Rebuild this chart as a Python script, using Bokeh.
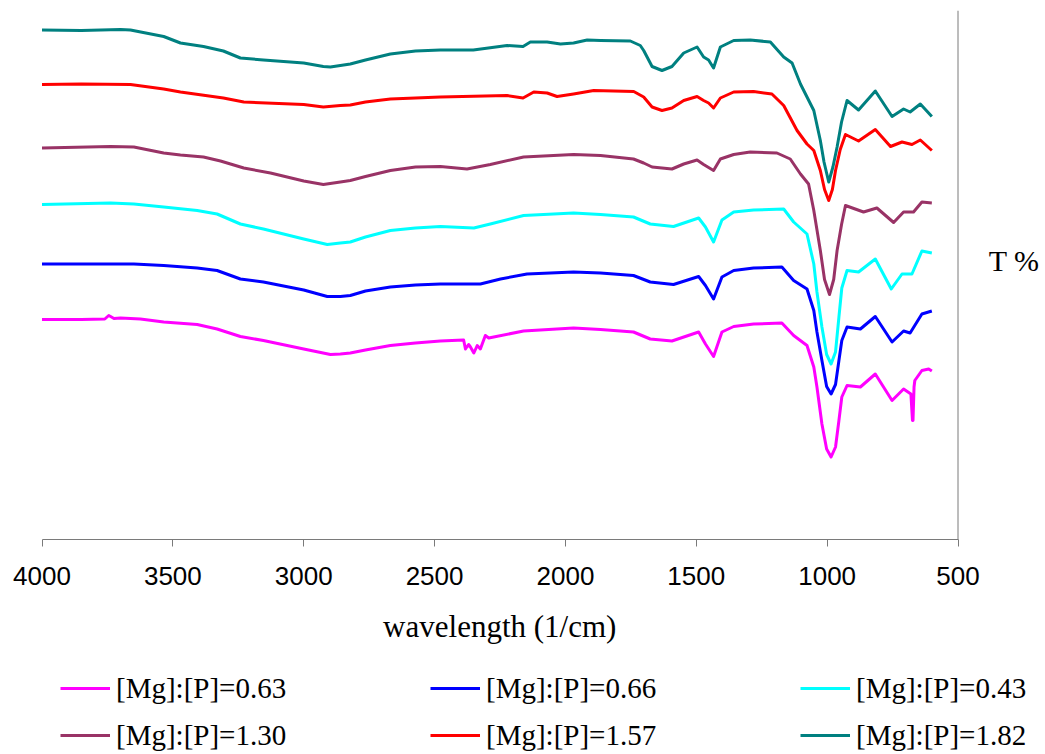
from bokeh.plotting import figure
from bokeh.layouts import column
from bokeh.models import Range1d, FixedTicker, Legend, LegendItem, Span, Label
from bokeh.embed import file_html
from bokeh.resources import INLINE

# ---- data (wavenumber in 1/cm, transmittance in arbitrary offset %) ----
labels = ["[Mg]:[P]=0.63", "[Mg]:[P]=0.66", "[Mg]:[P]=0.43",
          "[Mg]:[P]=1.30", "[Mg]:[P]=1.57", "[Mg]:[P]=1.82"]
colors = ["#FF00FF", "#0000FF", "#00FFFF", "#993366", "#FF0000", "#008080"]
x_ticks = [4000, 3500, 3000, 2500, 2000, 1500, 1000, 500]

wn_063 = [4000, 3850, 3760, 3745, 3738, 3725, 3700, 3624, 3535, 3407, 3331, 3242, 3154, 3000, 2898,
          2860, 2822, 2764, 2669, 2573, 2478, 2389, 2382, 2370, 2363, 2350, 2337, 2325, 2306, 2293,
          2274, 2160, 1969, 1866, 1740, 1676, 1593, 1491, 1465, 1434, 1402, 1357, 1281, 1173, 1128,
          1077, 1051, 1039, 1020, 1002, 985, 968, 955, 944, 924, 873, 816, 752, 708, 680,
          674, 672, 668, 665, 638, 612, 600]
t_063 = [44.0, 44.0, 44.1, 44.8, 44.6, 44.2, 44.3, 44.1, 43.5, 43.0, 42.1, 40.6, 39.8, 38.1, 37.0,
         37.1, 37.3, 37.9, 38.8, 39.3, 39.7, 39.9, 38.1, 39.0, 38.5, 37.3, 38.8, 38.1, 40.8, 40.3,
         40.5, 41.7, 42.3, 42.0, 41.5, 40.1, 39.7, 41.5, 39.1, 36.6, 41.5, 42.6, 43.1, 43.3, 40.8,
         38.8, 34.5, 30.5, 23.1, 18.1, 16.5, 18.5, 23.8, 28.5, 30.8, 30.5, 33.1, 27.8, 30.1, 29.1,
         23.8, 23.8, 30.5, 31.8, 33.8, 34.1, 33.7]

wn_066 = [4000, 3649, 3535, 3407, 3331, 3242, 3154, 3000, 2910, 2860, 2822, 2764, 2669, 2573, 2478,
          2325, 2248, 2147, 1969, 1866, 1740, 1676, 1587, 1491, 1465, 1434, 1402, 1357, 1281, 1173,
          1128, 1077, 1051, 1039, 1020, 1002, 985, 968, 955, 944, 924, 873, 816, 752, 708,
          683, 638, 600]
t_066 = [55.1, 55.1, 54.8, 54.3, 53.8, 52.1, 51.5, 49.9, 48.6, 48.6, 48.8, 49.7, 50.5, 50.9, 51.1,
         51.1, 52.1, 53.1, 53.5, 53.3, 52.8, 51.5, 51.0, 52.6, 50.8, 48.1, 52.5, 53.8, 54.3, 54.5,
         51.8, 50.1, 45.8, 41.5, 35.8, 30.6, 29.1, 31.0, 35.8, 39.8, 42.5, 42.1, 44.6, 39.5, 41.7,
         41.3, 45.1, 45.7]

wn_043 = [4000, 3738, 3649, 3535, 3407, 3331, 3242, 3154, 3000, 2910, 2860, 2822, 2764, 2669, 2573,
          2478, 2350, 2287, 2160, 1969, 1866, 1740, 1676, 1587, 1491, 1465, 1434, 1402, 1357, 1281,
          1166, 1128, 1077, 1051, 1039, 1020, 1002, 985, 968, 955, 944, 924, 880, 816, 755,
          714, 676, 638, 600]
t_043 = [67.0, 67.3, 67.1, 66.5, 65.8, 65.1, 63.1, 62.1, 60.1, 59.0, 59.3, 59.5, 60.5, 61.8, 62.3,
         62.6, 62.3, 63.1, 64.8, 65.3, 65.0, 64.5, 63.1, 62.6, 64.3, 62.5, 59.5, 63.9, 65.5, 65.9,
         66.1, 63.5, 61.1, 55.1, 49.5, 42.5, 37.0, 35.1, 37.5, 44.5, 50.3, 53.8, 53.5, 56.1, 50.1,
         53.1, 53.1, 57.7, 57.3]

wn_130 = [4000, 3738, 3649, 3535, 3471, 3383, 3318, 3229, 3127, 3000, 2925, 2860, 2822, 2764, 2669,
          2573, 2478, 2376, 2287, 2160, 1969, 1866, 1740, 1701, 1669, 1593, 1548, 1497, 1472, 1434,
          1408, 1357, 1294, 1192, 1141, 1102, 1071, 1051, 1026, 1010, 991, 975, 962, 945, 930,
          861, 810, 746, 708, 670, 638, 600]
t_130 = [78.3, 78.6, 78.5, 77.3, 76.9, 76.5, 75.7, 74.3, 73.3, 71.7, 71.0, 71.5, 71.8, 72.6, 73.8,
         74.5, 74.6, 74.1, 75.0, 76.5, 77.0, 76.8, 76.1, 75.3, 74.5, 74.1, 75.1, 75.9, 75.0, 73.8,
         76.1, 77.0, 77.5, 77.3, 76.1, 73.1, 71.1, 65.8, 57.8, 52.0, 49.0, 52.0, 57.8, 63.0, 66.8,
         65.5, 66.3, 63.4, 65.5, 65.5, 67.5, 67.3]

wn_157 = [4000, 3850, 3662, 3535, 3471, 3307, 3229, 3000, 2925, 2860, 2822, 2764, 2669, 2573, 2478,
          2223, 2162, 2121, 2070, 2032, 1969, 1892, 1739, 1701, 1669, 1631, 1593, 1548, 1497, 1472,
          1453, 1434, 1408, 1357, 1281, 1211, 1166, 1115, 1077, 1051, 1026, 1010, 994, 980, 968,
          950, 930, 880, 816, 758, 714, 676, 644, 600]
t_157 = [91.0, 91.1, 91.0, 90.1, 89.5, 88.3, 87.5, 87.0, 86.5, 86.8, 86.9, 87.5, 88.1, 88.3, 88.5,
         88.8, 88.3, 89.5, 89.3, 88.6, 89.1, 89.8, 89.6, 88.5, 86.5, 85.8, 86.3, 87.8, 88.6, 87.8,
         87.3, 86.3, 88.3, 89.5, 89.6, 89.1, 86.8, 81.8, 79.1, 77.8, 73.8, 70.0, 67.8, 70.0, 73.8,
         78.0, 81.0, 79.7, 82.0, 78.6, 79.5, 79.0, 79.9, 77.8]

wn_182 = [4000, 3850, 3700, 3662, 3535, 3471, 3383, 3307, 3242, 3154, 3000, 2925, 2898, 2860, 2822,
          2764, 2669, 2573, 2478, 2352, 2223, 2162, 2134, 2070, 2019, 1969, 1917, 1866, 1752, 1714,
          1701, 1669, 1631, 1593, 1548, 1497, 1472, 1453, 1434, 1408, 1357, 1294, 1217, 1166, 1134,
          1102, 1051, 1026, 1012, 994, 978, 962, 945, 924, 880, 816, 752, 708, 683, 644,
          600]
t_182 = [101.9, 101.8, 102.0, 101.9, 100.6, 99.3, 98.6, 97.7, 96.3, 95.9, 95.3, 94.6, 94.5, 94.8, 95.1,
         95.9, 97.1, 97.7, 97.9, 97.9, 98.8, 98.6, 99.5, 99.5, 99.1, 99.3, 99.9, 99.8, 99.7, 98.8,
         97.8, 94.6, 93.8, 94.6, 97.3, 98.5, 96.5, 95.9, 94.3, 98.5, 99.8, 99.9, 99.5, 96.5, 95.3,
         91.1, 85.8, 79.8, 75.5, 71.5, 74.5, 78.5, 83.5, 87.8, 85.9, 89.7, 84.6, 86.1, 85.5, 87.1,
         84.6]

series_x = [wn_063, wn_066, wn_043, wn_130, wn_157, wn_182]
series_y = [t_063, t_066, t_043, t_130, t_157, t_182]

AXIS_GRAY = "#7a7a7a"
LW = 3

# ---- main chart: frame spans the full width; the axis is bounded to 4000..500 ----
p = figure(width=1045, height=659, output_backend="svg", toolbar_location=None,
           x_range=Range1d(4158.6, 165.7), y_range=Range1d(0, 105.8),
           min_border_left=0, min_border_right=0, min_border_top=10, min_border_bottom=120,
           y_axis_location=None)
p.outline_line_color = None
p.grid.visible = False
p.background_fill_color = "white"

xa = p.xaxis[0]
xa.bounds = (500, 4000)
xa.ticker = FixedTicker(ticks=x_ticks)
xa.major_tick_out = 7
xa.major_tick_in = 0
xa.minor_tick_line_color = None
xa.axis_line_color = AXIS_GRAY
xa.major_tick_line_color = AXIS_GRAY
xa.major_label_text_font = "Liberation Sans"
xa.major_label_text_font_size = "26px"
xa.major_label_text_color = "black"
xa.major_label_standoff = 20
# trailing no-break spaces centre the title under the bounded axis rather than the full frame
xa.axis_label = "wavelength (1/cm)" + "\u00a0" * 6
xa.axis_label_text_font = "Liberation Serif"
xa.axis_label_text_font_style = "normal"
xa.axis_label_text_font_size = "31px"
xa.axis_label_text_color = "black"
xa.axis_label_standoff = 21

# right-hand plot-area border and the "T %" title
p.add_layout(Span(location=500, dimension="height", line_color=AXIS_GRAY, line_width=1))
p.add_layout(Label(x=383, y=55.8, text="T %", text_align="left", text_baseline="middle",
                   text_font="Liberation Serif", text_font_size="30px", text_color="black"))

for xs, ys, c in zip(series_x, series_y, colors):
    p.line(xs, ys, line_color=c, line_width=LW, line_join="round")

# ---- legend strip below the chart (series drawn out of view, only their keys show) ----
leg = figure(width=1045, height=95, output_backend="svg", toolbar_location=None,
             x_range=Range1d(0, 1), y_range=Range1d(0, 1),
             min_border_left=0, min_border_right=0, min_border_top=0, min_border_bottom=0,
             x_axis_location=None, y_axis_location=None)
leg.outline_line_color = None
leg.grid.visible = False

items = []
for xs, ys, c, lab in zip(series_x, series_y, colors, labels):
    r = leg.line(xs, ys, line_color=c, line_width=LW)
    items.append(LegendItem(label=lab, renderers=[r]))

legend = Legend(items=items, location=(60, 2), orientation="horizontal", ncols=3,
                glyph_width=50, glyph_height=20, label_standoff=6,
                label_width=301, label_height=34, spacing=13, padding=0, margin=0,
                border_line_color=None, background_fill_alpha=0,
                label_text_font="Liberation Serif", label_text_font_size="29px",
                label_text_color="black")
leg.add_layout(legend, "center")

layout = column(p, leg, spacing=0)
open("out.html", "w").write(file_html(layout, INLINE))
